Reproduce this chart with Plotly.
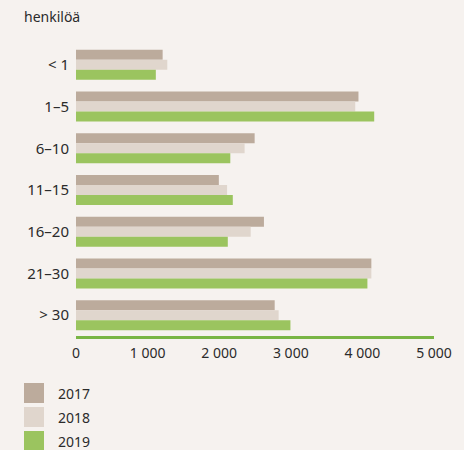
import plotly.graph_objects as go

categories = ["< 1", "1–5", "6–10", "11–15", "16–20", "21–30", "> 30"]
years = ["2017", "2018", "2019"]
v2017 = [1210, 3945, 2495, 1995, 2625, 4125, 2775]
v2018 = [1275, 3900, 2355, 2110, 2440, 4125, 2830]
v2019 = [1115, 4165, 2155, 2190, 2120, 4070, 2995]
colors = ["#bcab9c", "#e0d6cd", "#9bc45f"]
x_ticks = [0, 1000, 2000, 3000, 4000, 5000]
x_ticktext = ["0", "1 000", "2 000", "3 000", "4 000", "5 000"]
y_title = "henkilöä"

FONT = "Noto Sans"
TXT = "#2b2b2b"
BG = "#f6f2ef"

fig = go.Figure()
for name, vals, col in zip(years, [v2017, v2018, v2019], colors):
    fig.add_trace(go.Bar(y=categories, x=vals, name=name, orientation="h",
                         marker=dict(color=col, line=dict(width=0)), showlegend=False,
                         hoverinfo="skip"))

fig.update_layout(
    width=464, height=450,
    paper_bgcolor=BG, plot_bgcolor=BG,
    margin=dict(l=76, r=30, t=44, b=114),
    barmode="group", bargap=0.28, bargroupgap=0,
    font=dict(family=FONT, size=14, color=TXT),
    xaxis=dict(range=[0, 5000], tickvals=x_ticks, ticktext=x_ticktext,
               showgrid=False, zeroline=False, showline=True,
               linecolor="#79b545", linewidth=2.5, ticks="", ticklabelstandoff=3,
               tickfont=dict(size=14, color=TXT), fixedrange=True),
    yaxis=dict(autorange="reversed", showgrid=False, zeroline=False, showline=False,
               ticks="", ticklabelstandoff=6, tickfont=dict(size=15, color=TXT),
               fixedrange=True),
)

fig.add_annotation(text=y_title, xref="paper", yref="paper", x=(22 - 76) / 358.0, y=1,
                   xanchor="left", yanchor="bottom", yshift=16, showarrow=False,
                   font=dict(size=14, color=TXT))

# manual legend (square swatches)
for i, (name, col) in enumerate(zip(years, colors)):
    top = 383 + 24 * i
    y0 = 1 - (top + 20 - 44) / 292.0
    y1 = 1 - (top - 44) / 292.0
    x0 = (24 - 76) / 358.0
    x1 = (44 - 76) / 358.0
    fig.add_shape(type="rect", xref="paper", yref="paper", x0=x0, x1=x1, y0=y0, y1=y1,
                  fillcolor=col, line=dict(width=0))
    fig.add_annotation(text=name, xref="paper", yref="paper", x=(56 - 76) / 358.0,
                       y=(y0 + y1) / 2, xanchor="left", yanchor="middle", showarrow=False,
                       font=dict(size=14, color=TXT))

fig.write_html("out.html", config={"displayModeBar": False, "staticPlot": True},
               post_script="document.body.style.margin='0';document.body.style.background='%s';" % BG)
